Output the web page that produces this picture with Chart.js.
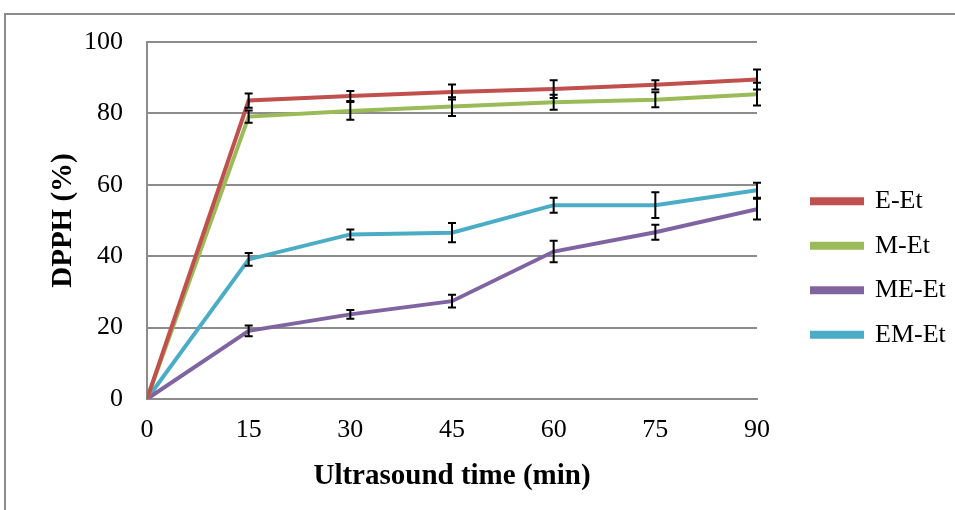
<!DOCTYPE html>
<html lang="en">
<head>
    <meta charset="UTF-8">
    <title>DPPH vs Ultrasound time</title>
    <style>
        body {
            margin: 0;
            background: #ffffff;
            overflow: hidden;
        }

        .chart-container {
            position: relative;
            width: 955px;
            height: 510px;
        }

        .frame {
            position: absolute;
            left: 4px;
            top: 13px;
            width: 1000px;
            height: 600px;
            border: 2px solid #8c8c8c;
            box-sizing: border-box;
        }
    </style>
</head>
<body>

<div class="chart-container">
    <div class="frame"></div>
    <canvas id="dpphChart"></canvas>
</div>

<script src="https://cdn.jsdelivr.net/npm/chart.js"></script>
<script>
    // Ultrasound time (min)
    const times = [0, 15, 30, 45, 60, 75, 90];
    const yTicks = [0, 20, 40, 60, 80, 100];

    // DPPH (%) per extract, with error bar half-widths
    const eEt = [0, 83.6, 84.9, 86.0, 86.8, 88.0, 89.5];
    const eEtErr = [0, 2.0, 1.4, 2.1, 2.5, 1.3, 2.8];

    const mEt = [0, 79.1, 80.7, 81.9, 83.1, 83.8, 85.4];
    const mEtErr = [0, 1.7, 2.5, 2.6, 2.1, 2.1, 3.2];

    const meEt = [0, 19.1, 23.7, 27.4, 41.3, 46.7, 53.2];
    const meEtErr = [0, 1.5, 1.2, 1.8, 3.0, 2.1, 2.9];

    const emEt = [0, 39.1, 46.1, 46.6, 54.3, 54.3, 58.5];
    const emEtErr = [0, 1.8, 1.4, 2.7, 2.1, 3.6, 2.1];

    const seriesNames = ['E-Et', 'M-Et', 'ME-Et', 'EM-Et'];
    const seriesColors = ['#C0504D', '#9BBB59', '#8064A2', '#4BACC6'];
    const seriesValues = [eEt, mEt, meEt, emEt];
    const seriesErrors = [eEtErr, mEtErr, meEtErr, emEtErr];

    const serif = "'Liberation Serif', 'Times New Roman', serif";

    const datasets = seriesNames.map((name, i) => ({
        label: name,
        data: times.map((t, j) => ({ x: t, y: seriesValues[i][j] })),
        errors: seriesErrors[i],
        borderColor: seriesColors[i],
        backgroundColor: seriesColors[i],
        borderWidth: 4,
        pointRadius: 0,
        tension: 0,
        fill: false
    }));

    // draws the black error bars on top of the lines
    const errorBars = {
        id: 'errorBars',
        afterDatasetsDraw(chart) {
            const ctx = chart.ctx;
            const xs = chart.scales.x;
            const ys = chart.scales.y;
            ctx.save();
            ctx.strokeStyle = '#000000';
            ctx.lineWidth = 2;
            chart.data.datasets.forEach(ds => {
                ds.data.forEach((p, j) => {
                    const e = ds.errors[j];
                    if (!e) return;
                    const px = xs.getPixelForValue(p.x);
                    const top = ys.getPixelForValue(p.y + e);
                    const bot = ys.getPixelForValue(p.y - e);
                    ctx.beginPath();
                    ctx.moveTo(px, top);
                    ctx.lineTo(px, bot);
                    ctx.moveTo(px - 4, top);
                    ctx.lineTo(px + 4, top);
                    ctx.moveTo(px - 4, bot);
                    ctx.lineTo(px + 4, bot);
                    ctx.stroke();
                });
            });
            ctx.restore();
        }
    };

    const config = {
        type: 'line',
        data: { datasets: datasets },
        options: {
            responsive: true,
            maintainAspectRatio: false,
            animation: false,
            layout: {
                padding: { left: 46, top: 42, right: 5.5, bottom: 16 }
            },
            plugins: {
                legend: {
                    display: true,
                    position: 'right',
                    maxWidth: 156,
                    labels: {
                        boxWidth: 50,
                        boxHeight: 4,
                        padding: 18.5,
                        color: '#000000',
                        font: { family: serif, size: 26 }
                    }
                },
                tooltip: { enabled: false }
            },
            scales: {
                x: {
                    type: 'linear',
                    min: 0,
                    max: 90,
                    afterBuildTicks: axis => {
                        axis.ticks = times.map(v => ({ value: v }));
                    },
                    afterFit: axis => { axis.height = 95; },
                    grid: { display: false, drawTicks: false },
                    border: { display: true, color: '#8c8c8c', width: 2 },
                    ticks: {
                        padding: 16,
                        color: '#000000',
                        font: { family: serif, size: 26 }
                    },
                    title: {
                        display: true,
                        text: 'Ultrasound time (min)',
                        color: '#000000',
                        padding: { top: 14, bottom: 0 },
                        font: { family: serif, size: 29, weight: 'bold' }
                    }
                },
                y: {
                    min: 0,
                    max: 100,
                    afterBuildTicks: axis => {
                        axis.ticks = yTicks.map(v => ({ value: v }));
                    },
                    afterFit: axis => { axis.width = 101; },
                    grid: {
                        display: true,
                        drawTicks: false,
                        color: '#8c8c8c',
                        lineWidth: 2
                    },
                    border: { display: true, color: '#8c8c8c', width: 2 },
                    ticks: {
                        padding: 24,
                        color: '#000000',
                        font: { family: serif, size: 26 }
                    },
                    title: {
                        display: true,
                        text: 'DPPH (%)',
                        color: '#000000',
                        padding: { top: 0, bottom: 6 },
                        font: { family: serif, size: 29, weight: 'bold' }
                    }
                },
                // empty spacer between the plot and the legend
                gap: {
                    type: 'linear',
                    position: 'right',
                    display: true,
                    afterFit: axis => { axis.width = 36.5; },
                    grid: { display: false, drawTicks: false },
                    border: { display: false },
                    ticks: { display: false }
                }
            }
        },
        plugins: [errorBars]
    };

    const dpphChart = new Chart(document.getElementById('dpphChart'), config);
</script>

</body>
</html>
